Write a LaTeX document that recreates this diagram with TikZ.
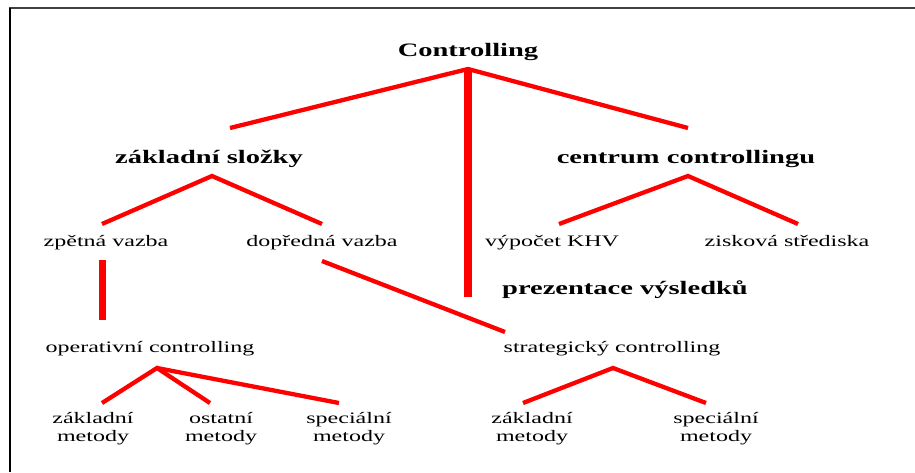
\documentclass[tikz,border=0pt]{standalone}
\usepackage{fontspec}
\setmainfont{Liberation Serif}[FakeStretch=1.5]
\begin{document}
\begin{tikzpicture}[x=1pt,y=-1pt,
  lbl/.style={inner sep=0pt, anchor=base, text=black, font=\fontsize{16}{18}\selectfont},
  head/.style={inner sep=0pt, anchor=base, text=black, font=\fontsize{19}{22}\selectfont\bfseries},
  meth/.style={lbl, align=center},
  conn/.style={draw=red, line width=4.3pt},
  trunk/.style={draw=red, line width=8pt},
  stem/.style={draw=red, line width=7pt},
  frameline/.style={line width=2pt}]
\useasboundingbox (0,0) rectangle (915,472);
% page frame: top and left edges only
\draw[frameline, draw=black!75] (8.5,8) -- (915,8);
\draw[frameline, draw=black] (9.5,8) -- (9.5,472);

% headings
\node[head] (ctrl) at (468,56) {Controlling};
\node[head] (zs)   at (209,163) {základní složky};
\node[head] (cc)   at (686,163) {centrum controllingu};
\node[head] (pv)   at (625,294) {prezentace výsledků};

% second level
\node[lbl] (zv)  at (106,246) {zpětná vazba};
\node[lbl] (dv)  at (322,246) {dopředná vazba};
\node[lbl] (khv) at (552,246) {výpočet KHV};
\node[lbl] (zis) at (787,246) {zisková střediska};

% third level
\node[lbl] (op) at (150,352) {operativní controlling};
\node[lbl] (st) at (612,352) {strategický controlling};

% methods (base anchor sits on the second line)
\node[meth] (m1) at (93,441)  {základní\\metody};
\node[meth] (m2) at (221,441) {ostatní\\metody};
\node[meth] (m3) at (349,441) {speciální\\metody};
\node[meth] (m4) at (532,441) {základní\\metody};
\node[meth] (m5) at (716,441) {speciální\\metody};

% connector end points
\coordinate (ctrl-b) at (468,69);
\coordinate (zs-t)   at (230,128);
\coordinate (cc-t)   at (688,128);
\coordinate (pv-t)   at (468,297);
\coordinate (zs-b)   at (212,176);
\coordinate (zv-t)   at (102,224);
\coordinate (dv-t)   at (322,224);
\coordinate (cc-b)   at (688,176);
\coordinate (khv-t)  at (559,224);
\coordinate (zis-t)  at (798,224);
\coordinate (zv-b)   at (102,260);
\coordinate (op-t)   at (102,320);
\coordinate (dv-b)   at (322,261);
\coordinate (st-t)   at (505,332);
\coordinate (op-b)   at (157,368);
\coordinate (m1-t)   at (102,403);
\coordinate (m2-t)   at (210,403);
\coordinate (m3-t)   at (339,403);
\coordinate (st-b)   at (613,368);
\coordinate (m4-t)   at (523,403);
\coordinate (m5-t)   at (706,403);

% connectors
\draw[conn] (zs-t) -- (ctrl-b) -- (cc-t);
\draw[trunk] (ctrl-b) -- (pv-t);
\draw[conn] (zv-t) -- (zs-b) -- (dv-t);
\draw[conn] (khv-t) -- (cc-b) -- (zis-t);
\draw[stem] (zv-b) -- (op-t);
\draw[conn] (dv-b) -- (st-t);
\draw[conn] (m1-t) -- (op-b) -- (m2-t);
\draw[conn] (op-b) -- (m3-t);
\draw[conn] (m4-t) -- (st-b) -- (m5-t);
\end{tikzpicture}
\end{document}
